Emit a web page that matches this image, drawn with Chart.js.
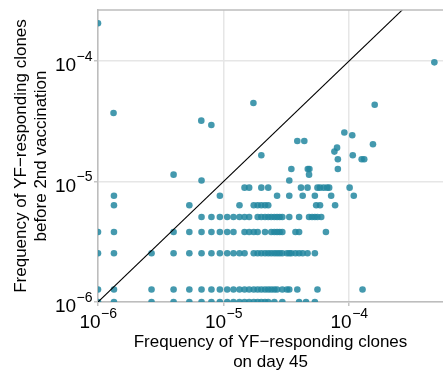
<!DOCTYPE html>
<html>
<head>
<meta charset="utf-8">
<script src="https://cdn.jsdelivr.net/npm/chart.js@4.4.0/dist/chart.umd.min.js"></script>
<style>
  html, body { margin: 0; padding: 0; background: #fff; }
  canvas { display: block; }
</style>
</head>
<body>
<canvas id="chart" width="443" height="373"></canvas>
<script>
// clone frequencies: rows share the same "before 2nd vaccination" value
const rowLevels = [1.0e-6, 1.27e-6, 2.54e-6, 3.81e-6, 5.08e-6, 6.35e-6, 7.62e-6, 8.89e-6, 1.02e-5, 1.14e-5, 1.27e-5];
const rowDay45 = [
  [1.0e-6,1.34e-6,2.67e-6,4.0e-6,5.34e-6,6.68e-6,8.01e-6,9.35e-6,1.07e-5,1.2e-5,1.34e-5,1.47e-5,1.6e-5,1.74e-5,1.87e-5,2.0e-5,2.14e-5,2.27e-5,2.54e-5,2.94e-5,4.0e-5,4.54e-5,5.34e-5],
  [1.0e-6,1.34e-6,2.67e-6,4.0e-6,5.34e-6,6.68e-6,8.01e-6,9.35e-6,1.07e-5,1.2e-5,1.34e-5,1.47e-5,1.6e-5,1.74e-5,1.87e-5,2.0e-5,2.14e-5,2.27e-5,2.4e-5,2.54e-5,2.67e-5,2.94e-5,3.2e-5,3.34e-5,3.87e-5,5.6e-5,1.28e-4],
  [1.0e-6,1.34e-6,2.67e-6,4.0e-6,5.34e-6,6.68e-6,8.01e-6,9.35e-6,1.07e-5,1.2e-5,1.34e-5,1.47e-5,1.74e-5,1.87e-5,2.0e-5,2.14e-5,2.27e-5,2.4e-5,2.54e-5,2.67e-5,2.8e-5,2.94e-5,3.2e-5,3.34e-5,3.47e-5,3.74e-5,4.0e-5,4.27e-5,4.67e-5,5.34e-5],
  [1.0e-6,1.34e-6,4.0e-6,5.34e-6,6.68e-6,8.01e-6,9.35e-6,1.07e-5,1.2e-5,1.47e-5,1.6e-5,1.74e-5,1.87e-5,2.14e-5,2.4e-5,2.54e-5,2.67e-5,2.8e-5,2.94e-5,3.74e-5,4.0e-5,6.54e-5],
  [6.68e-6,8.01e-6,9.35e-6,1.07e-5,1.2e-5,1.34e-5,1.47e-5,1.6e-5,1.87e-5,2.0e-5,2.14e-5,2.27e-5,2.4e-5,2.54e-5,2.67e-5,2.8e-5,2.94e-5,3.34e-5,4.0e-5,4.8e-5,5.07e-5,5.34e-5,5.6e-5,6.0e-5],
  [1.34e-6,5.34e-6,1.34e-5,1.74e-5,1.87e-5,2.0e-5,2.14e-5,2.27e-5,5.47e-5,5.87e-5,7.74e-5],
  [1.34e-6,9.35e-6,2.67e-5,3.34e-5,4.27e-5,5.34e-5,7.2e-5,1.09e-4],
  [1.47e-5,1.6e-5,2.0e-5,2.27e-5,4.14e-5,4.67e-5,5.6e-5,5.87e-5,6.27e-5,6.68e-5,6.94e-5,1.01e-4],
  [6.68e-6,3.34e-5],
  [4.0e-6,4.8e-5],
  [3.47e-5,4.69e-5,4.83e-5,8.14e-5]
];
// the scattered higher clones
const otherDay45  = [1.0e-6, 1.33e-6, 6.65e-6, 8.0e-6, 1.73e-5, 4.78e-4, 1.6e-4, 9.17e-5, 1.06e-4, 1.55e-4, 3.87e-5, 4.4e-5, 8.02e-5, 7.64e-5, 1.07e-4, 2.0e-5, 8.14e-5, 1.26e-4, 1.32e-4];
const otherBefore = [2.06e-4, 3.7e-5, 3.2e-5, 2.94e-5, 4.48e-5, 9.75e-5, 4.34e-5, 2.55e-5, 2.42e-5, 2.04e-5, 2.17e-5, 2.17e-5, 1.91e-5, 1.77e-5, 1.65e-5, 1.65e-5, 1.53e-5, 1.53e-5, 1.53e-5];

const diagonal = [1e-6, 1e-3];
const xTicks = [1e-6, 1e-5, 1e-4];
const yTicks = [1e-6, 1e-5, 1e-4];
const tickExps = ['−6', '−5', '−4'];
const xTitle = ['Frequency of YF−responding clones', 'on day 45'];
const yTitle = ['Frequency of YF−responding clones', 'before 2nd vaccination'];

const points = [];
rowLevels.forEach((yv, i) => rowDay45[i].forEach(xv => points.push({x: xv, y: yv})));
otherDay45.forEach((xv, i) => points.push({x: xv, y: otherBefore[i]}));

const FONT = '"Liberation Sans", Arial, Helvetica, sans-serif';

// top frame line, then "10" with a raised exponent at each tick pixel
const powLabels = {
  id: 'powLabels',
  afterDraw(chart) {
    const {ctx, chartArea, scales: {x, y}} = chart;
    ctx.save();
    ctx.strokeStyle = '#bdbdbd';
    ctx.lineWidth = 1.5;
    ctx.beginPath();
    ctx.moveTo(chartArea.left, chartArea.top);
    ctx.lineTo(chartArea.right, chartArea.top);
    ctx.stroke();

    ctx.fillStyle = '#000';
    ctx.textBaseline = 'alphabetic';
    ctx.textAlign = 'left';
    const measure = (ex) => {
      ctx.font = '19px ' + FONT; const wb = ctx.measureText('10').width;
      ctx.font = '14px ' + FONT; const we = ctx.measureText(ex).width;
      return [wb, we];
    };
    const draw = (left, base, ex, wb) => {
      ctx.font = '19px ' + FONT; ctx.fillText('10', left, base);
      ctx.font = '14px ' + FONT; ctx.fillText(ex, left + wb + 0.5, base - 10.5);
    };
    xTicks.forEach((v, i) => {
      const [wb, we] = measure(tickExps[i]);
      const px = x.getPixelForValue(v);
      draw(px - (wb + we) / 2, 328, tickExps[i], wb);
    });
    yTicks.forEach((v, i) => {
      const [wb, we] = measure(tickExps[i]);
      const py = y.getPixelForValue(v);
      draw(92 - wb - we, py + 10, tickExps[i], wb);
    });
    ctx.restore();
  }
};

function logAxis(tickVals, extra) {
  return Object.assign({
    type: 'logarithmic',
    ticks: {display: false},
    afterBuildTicks: s => { s.ticks = tickVals.map(v => ({value: v})); },
    grid: {color: '#e6e6e6', lineWidth: 1.5, drawTicks: true, tickLength: 4, tickColor: '#c4c4c4'},
    border: {color: '#bdbdbd', width: 1.5}
  }, extra);
}

new Chart(document.getElementById('chart'), {
  data: {
    datasets: [
      {
        type: 'line',
        data: diagonal.map(v => ({x: v, y: v})),
        borderColor: '#000',
        borderWidth: 1.1,
        pointRadius: 0,
        fill: false,
        order: 0
      },
      {
        type: 'scatter',
        data: points,
        backgroundColor: 'rgba(35,135,160,0.85)',
        borderWidth: 0,
        pointRadius: 3.3,
        order: 1
      }
    ]
  },
  options: {
    responsive: false,
    animation: false,
    layout: {autoPadding: false, padding: {top: 10, right: 0, left: 0, bottom: 0}},
    plugins: {legend: {display: false}, tooltip: {enabled: false}},
    scales: {
      x: logAxis(xTicks, {
        position: 'bottom',
        min: 1e-6, max: 5.6e-4,
        afterFit: s => { s.height = 71; },
        title: {display: true, text: xTitle, color: '#000', font: {family: FONT, size: 17}, padding: {top: 0, bottom: 0}}
      }),
      y: logAxis(yTicks, {
        position: 'left',
        min: 1e-6, max: 2.65e-4,
        afterFit: s => { s.width = 98; },
        title: {display: true, text: yTitle, color: '#000', font: {family: FONT, size: 17}, padding: {top: 11, bottom: 0}}
      })
    }
  },
  plugins: [powLabels]
});
</script>
</body>
</html>
